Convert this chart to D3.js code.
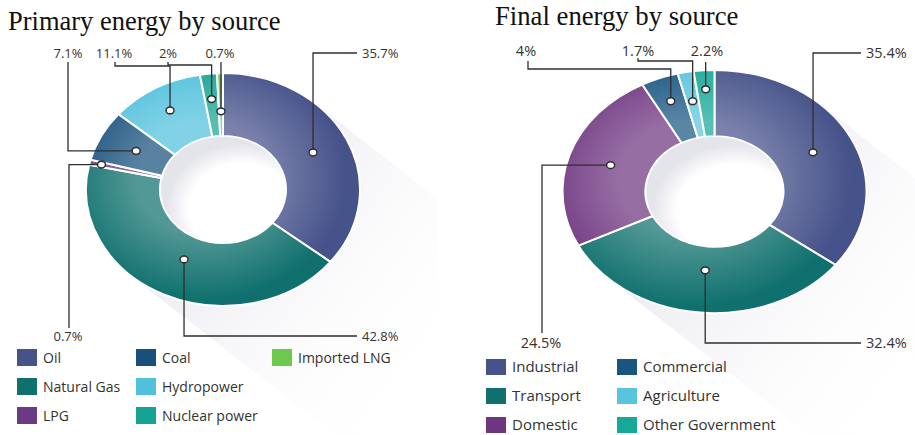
<!DOCTYPE html>
<html>
<head>
<meta charset="utf-8">
<script src="https://cdn.jsdelivr.net/npm/d3@7/dist/d3.min.js"></script>
<style>
  html, body { margin: 0; padding: 0; background: #ffffff; }
  svg { display: block; }
</style>
</head>
<body>
<svg id="chart" width="915" height="435"></svg>
<script>
// ---- data ----
const primaryCategories = ["Oil", "Natural Gas", "LPG", "Coal", "Hydropower", "Nuclear power", "Imported LNG"];
const primaryValues = [35.7, 42.8, 0.7, 7.1, 11.1, 2, 0.7];
const primaryColors = ["#46528a", "#0f706d", "#6a3a84", "#18507c", "#50c0dc", "#17a394", "#6cc94e"];

const finalCategories = ["Industrial", "Transport", "Domestic", "Commercial", "Agriculture", "Other Government"];
const finalValues = [35.4, 32.4, 24.5, 4, 1.7, 2.2];
const finalColors = ["#46528a", "#0f706d", "#6e3680", "#1a5582", "#58c4de", "#17a898"];

// ---- callout layout (dot radius along the slice's mid angle, elbow and text placement) ----
const primaryCallouts = [
  { dotR: 100, ey: 53,   lx: 357,  endY: 53,  tx: 362, ty: 58,  anchor: "start"  },
  { dotR: 91,  ey: 336,  lx: 357,  endY: 336, tx: 362, ty: 341, anchor: "start"  },
  { dotR: 125, ey: null, lx: 69,   endY: 328, tx: 68,  ty: 341, anchor: "middle" },
  { dotR: 98,  ey: null, lx: 68,   endY: 62,  tx: 68,  ty: 58,  anchor: "middle" },
  { dotR: 107, ey: 66,   lx: 115,  endY: 62,  tx: 114, ty: 58,  anchor: "middle" },
  { dotR: 107, ey: 65,   lx: 168,  endY: 62,  tx: 168, ty: 58,  anchor: "middle" },
  { dotR: 92,  ey: 62,   lx: null, endY: 62,  tx: 220, ty: 58,  anchor: "middle" }
];
const finalCallouts = [
  { dotR: 110, ey: 53,   lx: 861,  endY: 53,  tx: 866, ty: 58,  anchor: "start"  },
  { dotR: 99,  ey: 343,  lx: 861,  endY: 343, tx: 866, ty: 348, anchor: "start"  },
  { dotR: 109, ey: null, lx: 542,  endY: 333, tx: 541, ty: 348, anchor: "middle" },
  { dotR: 121, ey: 69,   lx: 528,  endY: 61,  tx: 526, ty: 56,  anchor: "middle" },
  { dotR: 115, ey: 61,   lx: 638,  endY: 58,  tx: 638, ty: 56,  anchor: "middle" },
  { dotR: 128, ey: 62,   lx: null, endY: 62,  tx: 707, ty: 56,  anchor: "middle" }
];

const svg = d3.select("#chart");
const defs = svg.append("defs");

function lighten(c, t) {
  return d3.interpolateRgb(c, "#ffffff")(t);
}

function drawDonut(opt) {
  const { id, cx, cy, R, r, k, values, categories, colors, callouts, shadowClipX,
          title, titleX, titleY, titleSize, labelSize,
          legendX, legendY, legendColW, legendRowH, legendSize, swW, swH } = opt;

  // long soft shadow cast toward the lower right
  const dir = [1, 0.78];
  const t0 = Math.atan(-(R * k) * dir[0] / (R * dir[1]));
  const p1 = [cx + R * Math.cos(t0), cy + R * k * Math.sin(t0)];
  const p2 = [cx + R * Math.cos(t0 + Math.PI), cy + R * k * Math.sin(t0 + Math.PI)];
  const L = 420;
  const shGrad = defs.append("linearGradient").attr("id", id + "-sh")
    .attr("gradientUnits", "userSpaceOnUse")
    .attr("x1", cx).attr("y1", cy).attr("x2", cx + L * 0.55).attr("y2", cy + L * 0.55 * dir[1]);
  shGrad.append("stop").attr("offset", 0).attr("stop-color", "#e9e9f0").attr("stop-opacity", 0.85);
  shGrad.append("stop").attr("offset", 1).attr("stop-color", "#ffffff").attr("stop-opacity", 0);
  defs.append("clipPath").attr("id", id + "-shclip")
    .append("rect").attr("x", 0).attr("y", 0).attr("width", shadowClipX).attr("height", 435);
  svg.append("path")
    .attr("clip-path", `url(#${id}-shclip)`)
    .attr("d", `M${p1}L${p1[0] + L * dir[0]},${p1[1] + L * dir[1]}L${p2[0] + L * dir[0]},${p2[1] + L * dir[1]}L${p2}Z`)
    .attr("fill", `url(#${id}-sh)`);

  const pie = d3.pie().sort(null).value(d => d)(values);
  const arc = d3.arc().innerRadius(r).outerRadius(R);

  const g = svg.append("g").attr("transform", `translate(${cx},${cy}) scale(1,${k})`);

  // backdrop disc so the shadow does not show through the hole
  g.append("circle").attr("r", R).attr("fill", "#ffffff");

  pie.forEach((p, i) => {
    const grad = defs.append("radialGradient").attr("id", `${id}-g${i}`)
      .attr("gradientUnits", "userSpaceOnUse")
      .attr("cx", -R * 0.15).attr("cy", -R * 0.1).attr("r", R * 1.05);
    grad.append("stop").attr("offset", r / R).attr("stop-color", lighten(colors[i], 0.28));
    grad.append("stop").attr("offset", 1).attr("stop-color", colors[i]);
  });

  g.selectAll("path.slice").data(pie).join("path")
    .attr("class", "slice")
    .attr("d", arc)
    .attr("fill", (d, i) => `url(#${id}-g${i})`)
    .attr("stroke", "#ffffff")
    .attr("stroke-width", 2)
    .attr("vector-effect", "non-scaling-stroke");

  // soft shading inside the hole
  const hole = defs.append("radialGradient").attr("id", id + "-hole")
    .attr("gradientUnits", "userSpaceOnUse")
    .attr("cx", r * 0.3).attr("cy", r * 0.35).attr("r", r * 1.2);
  hole.append("stop").attr("offset", 0.7).attr("stop-color", "#ffffff");
  hole.append("stop").attr("offset", 1).attr("stop-color", "#e4e4eb");
  g.append("circle").attr("r", r - 1).attr("fill", `url(#${id}-hole)`);

  // callouts
  const co = svg.append("g");
  pie.forEach((p, i) => {
    const c = callouts[i];
    const a = (p.startAngle + p.endAngle) / 2;
    const dx = cx + c.dotR * Math.sin(a);
    const dy = cy - c.dotR * Math.cos(a) * k;
    const ey = c.ey == null ? dy : c.ey;
    const lx = c.lx == null ? dx : c.lx;
    co.append("path")
      .attr("d", `M${dx},${dy}L${dx},${ey}L${lx},${ey}L${lx},${c.endY}`)
      .attr("fill", "none").attr("stroke", "#2e2e2e").attr("stroke-width", 1.3);
    co.append("ellipse")
      .attr("cx", dx).attr("cy", dy).attr("rx", 4).attr("ry", 3.4)
      .attr("fill", "#ffffff").attr("stroke", "#2e2e2e").attr("stroke-width", 1.5);
    co.append("text")
      .attr("x", c.tx).attr("y", c.ty).attr("text-anchor", c.anchor)
      .attr("font-family", "'Open Sans', sans-serif").attr("font-size", labelSize)
      .attr("fill", "#333333")
      .text(values[i] + "%");
  });

  // title
  svg.append("text")
    .attr("x", titleX).attr("y", titleY)
    .attr("font-family", "'Liberation Serif', 'Times New Roman', serif")
    .attr("font-size", titleSize).attr("fill", "#111111")
    .text(title);

  // legend, filled column by column in rows of three
  const lg = svg.append("g");
  categories.forEach((name, i) => {
    const col = Math.floor(i / 3), row = i % 3;
    const x = legendX + legendColW[col];
    const y = legendY + row * legendRowH;
    lg.append("rect").attr("x", x).attr("y", y).attr("width", swW).attr("height", swH)
      .attr("fill", colors[i]);
    lg.append("text").attr("x", x + swW + 6).attr("y", y + swH / 2)
      .attr("dy", "0.36em")
      .attr("font-family", "'Open Sans', sans-serif").attr("font-size", legendSize)
      .attr("fill", "#333333")
      .text(name);
  });
}

drawDonut({
  id: "primary", cx: 223, cy: 189.5, R: 137, r: 63, k: 0.85,
  values: primaryValues, categories: primaryCategories, colors: primaryColors,
  callouts: primaryCallouts, shadowClipX: 438,
  title: "Primary energy by source", titleX: 8, titleY: 30, titleSize: 26.5, labelSize: 13,
  legendX: 17, legendY: 349, legendColW: [0, 119, 255], legendRowH: 29, legendSize: 14,
  swW: 20, swH: 17
});

drawDonut({
  id: "final", cx: 714.5, cy: 191.5, R: 152, r: 69, k: 0.8,
  values: finalValues, categories: finalCategories, colors: finalColors,
  callouts: finalCallouts, shadowClipX: 915,
  title: "Final energy by source", titleX: 495, titleY: 25, titleSize: 26.7, labelSize: 14.5,
  legendX: 486, legendY: 359, legendColW: [0, 131], legendRowH: 29, legendSize: 15,
  swW: 20, swH: 16
});
</script>
</body>
</html>
